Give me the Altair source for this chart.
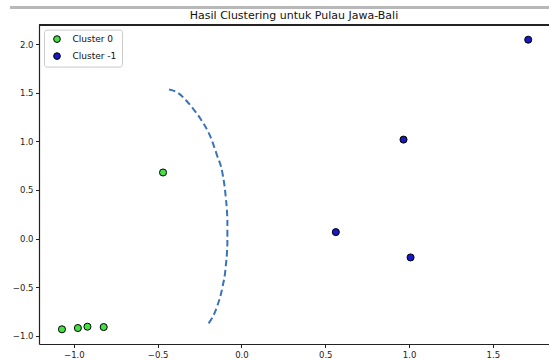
import altair as alt
import pandas as pd

# Cluster points
pt_x = [-0.468, -1.071, -0.976, -0.919, -0.822, 0.967, 0.563, 1.009, 1.711]
pt_y = [0.680, -0.932, -0.919, -0.905, -0.909, 1.018, 0.067, -0.193, 2.045]
pt_cluster = ["Cluster 0"] * 5 + ["Cluster -1"] * 4

# Dashed arc
arc_x = [-0.432, -0.380, -0.330, -0.289, -0.239, -0.189, -0.146, -0.113, -0.094,
         -0.084, -0.084, -0.094, -0.113, -0.146, -0.203]
arc_y = [1.532, 1.500, 1.420, 1.337, 1.217, 1.063, 0.857, 0.669, 0.429,
         0.190, -0.049, -0.290, -0.495, -0.700, -0.888]

x_ticks = [-1.0, -0.5, 0.0, 0.5, 1.0, 1.5]
y_ticks = [-1.0, -0.5, 0.0, 0.5, 1.0, 1.5, 2.0]

pts = pd.DataFrame({"x": pt_x, "y": pt_y, "cluster": pt_cluster})
arc = pd.DataFrame({"x": arc_x, "y": arc_y, "i": list(range(len(arc_x)))})

FONT = "DejaVu Sans"
xscale = alt.Scale(domain=[-1.208, 1.835], nice=False, zero=False)
yscale = alt.Scale(domain=[-1.083, 2.196], nice=False, zero=False)

axis_common = dict(
    title=None, grid=False, format=".1f",
    domainColor="#222222", domainWidth=1.2,
    tickColor="#222222", tickSize=3.5, tickWidth=1,
    labelColor="#222222", labelFont=FONT, labelFontSize=8.5,
)

xenc = alt.X("x:Q", scale=xscale,
             axis=alt.Axis(values=x_ticks, labelPadding=3, **axis_common))
yenc = alt.Y("y:Q", scale=yscale,
             axis=alt.Axis(values=y_ticks, labelPadding=2.5, **axis_common))

line = alt.Chart(arc).mark_line(
    color="#3a74b8", strokeWidth=2, strokeDash=[6.5, 3.5], interpolate="monotone"
).encode(x=xenc, y=yenc, order="i:Q")

points = alt.Chart(pts).mark_point(
    filled=True, size=50, stroke="black", strokeWidth=1, opacity=1
).encode(
    x=xenc, y=yenc,
    color=alt.Color(
        "cluster:N",
        scale=alt.Scale(domain=["Cluster 0", "Cluster -1"],
                        range=["#44e044", "#1818c4"]),
        legend=alt.Legend(
            title=None, orient="none", legendX=5, legendY=4.6,
            padding=5, strokeColor="#cccccc", fillColor="white",
            cornerRadius=2.5, labelFont=FONT, labelFontSize=9,
            labelColor="#111111", symbolType="circle", symbolSize=45,
            symbolStrokeColor="black", symbolStrokeWidth=1,
            symbolOffset=3.5, labelOffset=11, rowPadding=6,
        ),
    ),
)

top_spine = alt.Chart(pts).mark_rule(color="#222222", strokeWidth=1.2).encode(
    x=alt.value(0), x2=alt.value(510), y=alt.value(0)
)
top_band = alt.Chart(pts).mark_rule(color="#b8b8b8", strokeWidth=2).encode(
    x=alt.value(-29), x2=alt.value(510), y=alt.value(-17.5)
)

chart = alt.layer(top_band, line, points, top_spine).properties(
    width=510, height=319,
    autosize="none",
    padding={"left": 39, "top": 25, "right": 0, "bottom": 16},
    title=alt.TitleParams(
        "Hasil Clustering untuk Pulau Jawa-Bali",
        font=FONT, fontSize=11, fontWeight="normal", color="#111111",
        anchor="middle", offset=-14.5,
    ),
).configure_view(stroke=None).configure(background="white")

chart.save("out.html", embed_options={"renderer": "svg", "actions": False})
